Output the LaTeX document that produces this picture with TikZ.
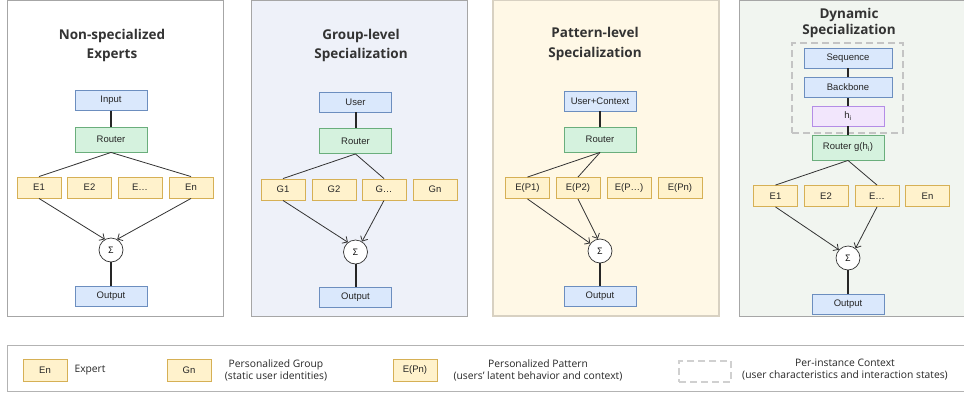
\documentclass[tikz,border=0pt]{standalone}
\usepackage{fontspec}
\setmainfont{Open Sans}
\newfontfamily\boxfont{Liberation Sans}
\usepackage{tikz}
\usetikzlibrary{arrows.meta}
\definecolor{bluefill}{HTML}{DAE8FC}
\definecolor{blueline}{HTML}{6C8EBF}
\definecolor{greenfill}{HTML}{D5F2DE}
\definecolor{greenline}{HTML}{6AAE7C}
\definecolor{expfill}{HTML}{FFF2CC}
\definecolor{expline}{HTML}{D6B055}
\definecolor{violfill}{HTML}{F2E6FC}
\definecolor{violline}{HTML}{B48DE6}
\definecolor{panelline}{HTML}{A6A6A6}
\definecolor{grpfill}{HTML}{EEF1F9}
\definecolor{patfill}{HTML}{FFF8E6}
\definecolor{patline}{HTML}{D8D1C2}
\definecolor{dynfill}{HTML}{F1F5F0}
\definecolor{ctxline}{HTML}{C4C4C4}
\definecolor{titlecol}{HTML}{333333}
\tikzset{
  inbox/.style={draw=blueline,fill=bluefill,line width=0.9pt,minimum width=72pt,
    minimum height=20pt,inner sep=0pt,text=black!85,font=\boxfont\fontsize{9.5}{11}\selectfont},
  routbox/.style={inbox,draw=greenline,fill=greenfill,minimum height=25pt},
  expbox/.style={inbox,draw=expline,fill=expfill,minimum width=44pt,minimum height=21pt},
  hbox/.style={inbox,draw=violline,fill=violfill},
  sumnode/.style={circle,draw=black!80,fill=white,line width=0.7pt,minimum size=24pt,
    inner sep=0pt,font=\fontsize{9}{10}\selectfont},
  ptitle/.style={align=center,text=titlecol,font=\bfseries\fontsize{13.5}{19.5}\selectfont},
  legtext/.style={align=center,text=black!85,font=\fontsize{10.3}{12}\selectfont},
  ctxbox/.style={draw=ctxline,line width=2pt,dash pattern=on 7pt off 4pt},
  trunk/.style={draw=black!85,line width=2pt},
  link/.style={draw=black!80,line width=0.8pt},
  feed/.style={link,-{Straight Barb[length=4pt,width=8pt]}}
}
\begin{document}
\begin{tikzpicture}[x=1pt,y=-1pt]
\useasboundingbox (0,0) rectangle (964,394);
\draw[panelline,fill=white,line width=0.9pt] (7,0.5) rectangle (223,316);
\draw[panelline,fill=grpfill,line width=0.9pt] (251,0.5) rectangle (467,316);
\draw[patline,fill=patfill,line width=1.2pt] (493,0.5) rectangle (719,316);
\draw[panelline,fill=dynfill,line width=0.9pt] (739,0.5) rectangle (980,316);
\draw[panelline!85,line width=0.9pt] (7,345) rectangle (980,391);

% non-specialized experts
\node[ptitle] (t1) at (112,45.5) {Non-specialized\\Experts};
\node[inbox] (in1) at (111,100.5) {Input};
\node[routbox] (r1) at (111,139.5) {Router};
\node[expbox] (e11) at (39,187.5) {E1};
\node[expbox] (e12) at (89.5,187.5) {E2};
\node[expbox] (e13) at (140,187.5) {E\dots};
\node[expbox] (e14) at (191,187.5) {En};
\node[sumnode] (s1) at (111,250) {Σ};
\node[inbox] (o1) at (111,296) {Output};
\path[trunk] (in1) edge (r1) (s1) edge (o1);
\path[link] (r1.south) edge (e11.north) (r1.south) edge (e14.north);
\draw[feed] (e11.south) -- (s1.120);
\draw[feed] (e14.south) -- (s1.60);

% group-level
\node[ptitle] (t2) at (361,45.5) {Group-level\\Specialization};
\node[inbox] (in2) at (355.5,102) {User};
\node[routbox] (r2) at (355.5,141) {Router};
\node[expbox] (g1) at (283,189.5) {G1};
\node[expbox] (g2) at (334,189.5) {G2};
\node[expbox] (g3) at (384,189.5) {G\dots};
\node[expbox] (g4) at (435,189.5) {Gn};
\node[sumnode] (s2) at (355.5,252) {Σ};
\node[inbox] (o2) at (355.5,297) {Output};
\path[trunk] (in2) edge (r2) (s2) edge (o2);
\path[link] (r2.south) edge (g1.north) (r2.south) edge (g3.north);
\draw[feed] (g1.south) -- (s2.128);
\draw[feed] (g3.south) -- (s2.58);

% pattern-level
\node[ptitle] (t3) at (595,44) {Pattern-level\\Specialization};
\node[inbox] (in3) at (600,101) {User+Context};
\node[routbox] (r3) at (600,139.5) {Router};
\node[expbox] (p1) at (527.5,188) {E(P1)};
\node[expbox] (p2) at (578,188) {E(P2)};
\node[expbox] (p3) at (629,188) {E(P\dots)};
\node[expbox] (p4) at (680,188) {E(Pn)};
\node[sumnode] (s3) at (600,251) {Σ};
\node[inbox] (o3) at (600,296.5) {Output};
\path[trunk] (in3) edge (r3) (s3) edge (o3);
\path[link] (r3.south) edge (p1.north) (r3.south) edge (p2.north);
\draw[feed] (p1.south) -- (s3.142);
\draw[feed] (p2.south) -- (s3.100);

% dynamic
\node[ptitle,font=\bfseries\fontsize{13.5}{15.5}\selectfont] (t4) at (849,23) {Dynamic\\Specialization};
\node[ctxbox,minimum width=111pt,minimum height=90pt] (ctx) at (847.5,88) {};
\node[inbox,minimum width=88pt] (sq) at (848,58) {Sequence};
\node[inbox,minimum width=88pt] (bb) at (848,87.5) {Backbone};
\node[hbox] (hi) at (848,116) {h\textsubscript{i}};
\node[routbox] (r4) at (848,147.5) {Router g(h\textsubscript{i})};
\node[expbox] (d1) at (775.5,196) {E1};
\node[expbox] (d2) at (826,196) {E2};
\node[expbox] (d3) at (877,196) {E\dots};
\node[expbox] (d4) at (927.5,196) {En};
\node[sumnode] (s4) at (848,258) {Σ};
\node[inbox] (o4) at (848,304) {Output};
\path[trunk] (sq) edge (bb) (bb) edge (hi) (hi) edge (r4) (s4) edge (o4);
\path[link] (r4.south) edge (d1.north) (r4.south) edge (d3.north);
\draw[feed] (d1.south) -- (s4.138);
\draw[feed] (d3.south) -- (s4.52);

% legend
\node[expbox,minimum height=22pt] (le) at (45,370) {En};
\node[legtext,anchor=west] (lt1) at (71,370) {Expert};
\node[expbox,minimum height=22pt] (lg) at (189,370) {Gn};
\node[legtext] (lt2) at (276,370) {Personalized Group\\(static user identities)};
\node[expbox,minimum height=22pt] (lp) at (415,370) {E(Pn)};
\node[legtext] (lt3) at (538,370) {Personalized Pattern\\(users' latent behavior and context)};
\node[ctxbox,line width=1.6pt,draw=ctxline!80,minimum width=52pt,minimum height=21pt] (lc) at (705,371.5) {};
\node[legtext] (lt4) at (845,370) {Per-instance Context\\(user characteristics and interaction states)};
\end{tikzpicture}
\end{document}
